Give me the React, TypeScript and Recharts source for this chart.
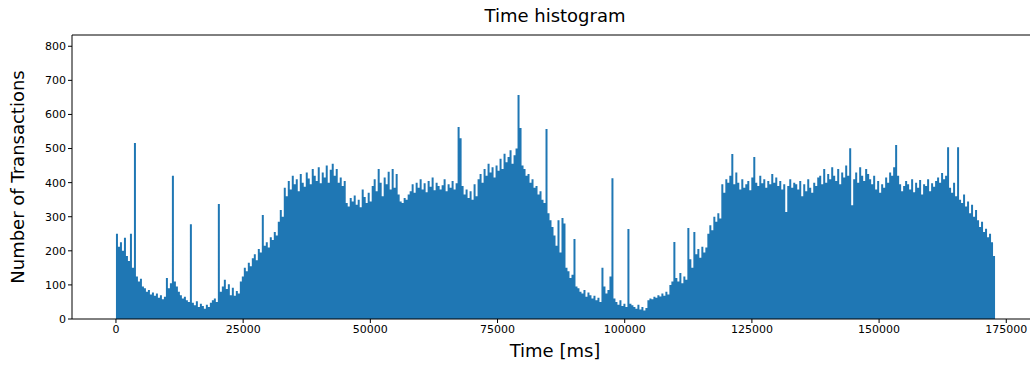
import { AreaChart, Area, XAxis, YAxis, ReferenceLine } from 'recharts';

// transactions per time bin (440 bins across 0..172792 ms)
const counts = [
  250, 212, 225, 200, 238, 185, 170, 250, 150, 516,
  125, 110, 118, 95, 90, 80, 85, 72, 78, 68, 75, 62, 70, 58,
  65, 120, 90, 105, 420,
  110, 95, 80, 70, 60, 65, 55, 50,
  278,
  48, 40, 52, 35, 45, 38, 30, 42, 35, 48, 55, 60, 50,
  337,
  80, 95, 115, 88, 102, 70, 92, 68, 82, 75, 110,
  125, 150, 140, 165, 155, 178, 190, 172, 205, 195, 305, 215, 225, 210, 240, 232, 255, 245, 285, 320, 300, 385, 360,
  405, 380, 420, 395, 410, 375, 425, 400, 388, 430, 412, 395, 440, 420, 405, 445, 398, 430, 415, 450, 400, 438,
  455, 420, 440, 400, 415, 390, 405,
  340, 330, 355, 345, 362, 335, 350, 328, 380, 358, 340, 370, 345,
  390, 410, 375, 440, 400, 360, 415, 395, 432, 380, 440, 385, 425, 365,
  345, 340, 355, 350, 365,
  375, 395, 370, 400, 385, 410, 380, 398, 372, 405, 388, 415, 378, 400, 390, 380, 392, 410, 375, 395, 385, 405, 380, 398,
  563, 530,
  390, 365, 380, 355, 375, 350, 395, 360,
  410, 425, 400, 440, 420, 455, 430, 445, 415, 450, 435,
  470, 440, 485, 460, 475, 495, 455, 480, 500,
  657, 560, 450,
  440, 420, 425, 400, 410, 385, 390, 365, 375, 350, 340,
  557,
  310, 290, 270, 245, 215, 290, 195, 296, 280, 150, 140, 120, 130, 235, 95,
  90, 80, 75, 85, 65, 78, 70, 60, 68, 55, 62, 50,
  150, 95, 75, 85, 125,
  413,
  60, 50, 42, 55, 38, 45, 35,
  264,
  45, 40, 35, 30, 42, 28, 35, 25, 32,
  55, 60, 58, 65, 62, 70, 66, 75, 68, 80, 72,
  100, 110, 226,
  120, 110, 135, 105, 125, 115,
  267, 175, 150, 255,
  190, 205, 180, 212, 195, 210,
  250, 275, 260, 300, 285, 310, 295,
  395, 370, 410, 400, 420, 484, 395, 430,
  400, 380, 410, 385, 395, 405, 378, 415, 475, 400, 390, 420, 398, 410, 385, 405, 395, 425, 400, 415, 390, 405, 380, 395, 314, 390, 410, 385, 400, 395,
  380, 405, 360, 395, 375, 410, 385, 370, 400, 390, 415, 420, 395, 440, 400, 425, 410, 445, 420, 405,
  440, 395, 430, 415, 450, 420, 501, 334, 410, 430, 400, 445, 420, 405, 440, 425, 410, 395, 420, 380,
  405, 370, 395, 385, 415, 400, 430, 420, 445, 510, 420, 395, 375, 390, 405,
  395, 380, 410, 372, 400, 385, 408, 365, 395, 390, 410, 375, 398, 388, 405,
  415, 400, 428, 410, 420,
  504,
  385, 370, 400, 360,
  504,
  350, 340, 365, 330, 345, 310, 335, 300, 320, 290,
  270, 285, 255, 265, 240, 250, 225, 185,
];

const maxTime = 172792;
const xTicks = [0, 25000, 50000, 75000, 100000, 125000, 150000, 175000];
const yTicks = [0, 100, 200, 300, 400, 500, 600, 700, 800];

const binWidth = maxTime / counts.length;
const data = counts.map((c, i) => ({ t: i * binWidth, count: c }));
data.push({ t: maxTime, count: counts[counts.length - 1] });

const font = '"DejaVu Sans", sans-serif';

export default function App() {
  return (
    <div style={{ position: 'absolute', left: 0, top: 0, width: 1030, height: 369, overflow: 'hidden', background: '#fff', fontFamily: font }}>
      <div style={{ position: 'absolute', left: 455, width: 200, top: 5, textAlign: 'center', fontSize: 18, color: '#000' }}>
        Time histogram
      </div>
      <AreaChart width={1045} height={369} data={data} margin={{ top: 35, right: 6, bottom: 0, left: 0 }}>
        <XAxis
          dataKey="t"
          type="number"
          domain={[-8640, 181432]}
          allowDataOverflow
          ticks={xTicks}
          tickSize={4}
          tickMargin={2}
          height={50}
          stroke="#000"
          tick={{ fill: '#000', fontSize: 11, fontFamily: font }}
        />
        <YAxis
          type="number"
          domain={[0, 833]}
          allowDataOverflow
          ticks={yTicks}
          tickSize={4}
          tickMargin={2}
          width={72}
          stroke="#000"
          tick={{ fill: '#000', fontSize: 11, fontFamily: font }}
        />
        <ReferenceLine y={833} stroke="#000" />
        <Area
          dataKey="count"
          type="stepAfter"
          fill="#1f77b4"
          fillOpacity={1}
          stroke="none"
          dot={false}
          activeDot={false}
          isAnimationActive={false}
        />
      </AreaChart>
      <div style={{ position: 'absolute', left: 455, width: 200, top: 340, textAlign: 'center', fontSize: 18, color: '#000' }}>
        Time [ms]
      </div>
      <div
        style={{
          position: 'absolute',
          left: 17,
          top: 177,
          transform: 'translate(-50%, -50%) rotate(-90deg)',
          whiteSpace: 'nowrap',
          fontSize: 18,
          color: '#000',
        }}
      >
        Number of Transactions
      </div>
    </div>
  );
}
